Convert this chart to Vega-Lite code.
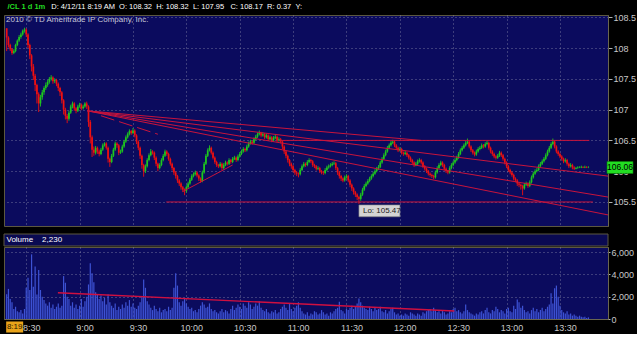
{
"$schema": "https://vega.github.io/schema/vega-lite/v6.json",
"background": "#000000",
"padding": {"left": 3, "top": 3, "right": 0, "bottom": 0},
"title": {"text": "/CL 1 d 1m", "subtitle": "\u200b\u00a0\u00a0\u00a0\u00a0\u00a0\u00a0\u00a0\u00a0\u00a0\u00a0\u00a0\u00a0\u00a0\u00a0\u00a0\u00a0\u00a0\u00a0\u00a0\u00a0\u00a0D: 4/12/11 8:19 AM\u00a0\u00a0O: 108.32\u00a0\u00a0H: 108.32\u00a0\u00a0L: 107.95\u00a0\u00a0\u00a0C: 108.17\u00a0\u00a0R: 0.37\u00a0\u00a0Y:", "anchor": "start", "dx": 4, "fontSize": 7.5, "fontWeight": "bold", "color": "#22dd22", "font": "Liberation Sans", "subtitleFont": "Liberation Sans", "subtitleFontSize": 7.5, "subtitleColor": "#ffffff", "subtitlePadding": -7.5, "offset": 2},
"datasets": {
"bars": [
{"t":499,"o":108.32,"h":108.32,"l":107.95,"c":108.17,"v":2230},
{"t":500,"o":108.17,"h":108.19,"l":108.01,"c":108.05,"v":2700},
{"t":501,"o":108.05,"h":108.07,"l":107.95,"c":107.98,"v":1800},
{"t":502,"o":107.98,"h":108.00,"l":107.89,"c":107.92,"v":1500},
{"t":503,"o":107.92,"h":107.98,"l":107.90,"c":107.95,"v":900},
{"t":504,"o":107.95,"h":108.07,"l":107.93,"c":108.05,"v":1100},
{"t":505,"o":108.05,"h":108.14,"l":108.03,"c":108.12,"v":700},
{"t":506,"o":108.12,"h":108.21,"l":108.10,"c":108.18,"v":600},
{"t":507,"o":108.18,"h":108.25,"l":108.15,"c":108.22,"v":800},
{"t":508,"o":108.22,"h":108.30,"l":108.20,"c":108.28,"v":500},
{"t":509,"o":108.28,"h":108.33,"l":108.25,"c":108.30,"v":900},
{"t":510,"o":108.30,"h":108.32,"l":108.18,"c":108.22,"v":2800},
{"t":511,"o":108.22,"h":108.24,"l":108.00,"c":108.05,"v":3700},
{"t":512,"o":108.05,"h":108.07,"l":107.82,"c":107.88,"v":2600},
{"t":513,"o":107.88,"h":107.90,"l":107.62,"c":107.70,"v":5800},
{"t":514,"o":107.70,"h":107.74,"l":107.48,"c":107.55,"v":2900},
{"t":515,"o":107.55,"h":107.58,"l":107.30,"c":107.40,"v":4700},
{"t":516,"o":107.40,"h":107.42,"l":107.10,"c":107.25,"v":2200},
{"t":517,"o":107.25,"h":107.28,"l":106.96,"c":107.10,"v":4400},
{"t":518,"o":107.10,"h":107.24,"l":107.05,"c":107.20,"v":2600},
{"t":519,"o":107.20,"h":107.32,"l":107.16,"c":107.28,"v":2000},
{"t":520,"o":107.28,"h":107.38,"l":107.24,"c":107.35,"v":1700},
{"t":521,"o":107.35,"h":107.44,"l":107.32,"c":107.40,"v":1400},
{"t":522,"o":107.40,"h":107.48,"l":107.37,"c":107.45,"v":1200},
{"t":523,"o":107.45,"h":107.53,"l":107.42,"c":107.50,"v":1500},
{"t":524,"o":107.50,"h":107.56,"l":107.47,"c":107.52,"v":1000},
{"t":525,"o":107.52,"h":107.54,"l":107.42,"c":107.46,"v":1300},
{"t":526,"o":107.46,"h":107.51,"l":107.43,"c":107.48,"v":900},
{"t":527,"o":107.48,"h":107.50,"l":107.38,"c":107.42,"v":1100},
{"t":528,"o":107.42,"h":107.44,"l":107.30,"c":107.35,"v":1400},
{"t":529,"o":107.35,"h":107.37,"l":107.22,"c":107.28,"v":1000},
{"t":530,"o":107.28,"h":107.30,"l":107.10,"c":107.15,"v":1200},
{"t":531,"o":107.15,"h":107.17,"l":106.92,"c":107.00,"v":3850},
{"t":532,"o":107.00,"h":107.03,"l":106.84,"c":106.90,"v":3250},
{"t":533,"o":106.90,"h":106.93,"l":106.78,"c":106.85,"v":2000},
{"t":534,"o":106.85,"h":106.98,"l":106.82,"c":106.95,"v":1800},
{"t":535,"o":106.95,"h":107.08,"l":106.93,"c":107.05,"v":1200},
{"t":536,"o":107.05,"h":107.13,"l":107.02,"c":107.10,"v":1500},
{"t":537,"o":107.10,"h":107.12,"l":106.98,"c":107.02,"v":1000},
{"t":538,"o":107.02,"h":107.04,"l":106.94,"c":106.98,"v":1300},
{"t":539,"o":106.98,"h":107.08,"l":106.96,"c":107.05,"v":900},
{"t":540,"o":107.05,"h":107.11,"l":107.03,"c":107.08,"v":1200},
{"t":541,"o":107.08,"h":107.10,"l":106.99,"c":107.02,"v":1800},
{"t":542,"o":107.02,"h":107.08,"l":107.00,"c":107.05,"v":1100},
{"t":543,"o":107.05,"h":107.12,"l":107.03,"c":107.10,"v":1600},
{"t":544,"o":107.10,"h":107.13,"l":107.01,"c":107.05,"v":2000},
{"t":545,"o":107.05,"h":107.07,"l":106.72,"c":106.80,"v":3100},
{"t":546,"o":106.80,"h":106.83,"l":106.45,"c":106.55,"v":5000},
{"t":547,"o":106.55,"h":106.58,"l":106.23,"c":106.35,"v":4100},
{"t":548,"o":106.35,"h":106.40,"l":106.25,"c":106.30,"v":3300},
{"t":549,"o":106.30,"h":106.41,"l":106.27,"c":106.38,"v":2400},
{"t":550,"o":106.38,"h":106.40,"l":106.28,"c":106.32,"v":2200},
{"t":551,"o":106.32,"h":106.35,"l":106.24,"c":106.28,"v":1800},
{"t":552,"o":106.28,"h":106.38,"l":106.26,"c":106.35,"v":2100},
{"t":553,"o":106.35,"h":106.45,"l":106.33,"c":106.42,"v":1600},
{"t":554,"o":106.42,"h":106.47,"l":106.40,"c":106.45,"v":1900},
{"t":555,"o":106.45,"h":106.47,"l":106.35,"c":106.38,"v":1300},
{"t":556,"o":106.38,"h":106.40,"l":106.14,"c":106.20,"v":2200},
{"t":557,"o":106.20,"h":106.22,"l":106.07,"c":106.15,"v":1500},
{"t":558,"o":106.15,"h":106.28,"l":106.13,"c":106.25,"v":1200},
{"t":559,"o":106.25,"h":106.38,"l":106.23,"c":106.35,"v":1000},
{"t":560,"o":106.35,"h":106.48,"l":106.33,"c":106.45,"v":1400},
{"t":561,"o":106.45,"h":106.47,"l":106.38,"c":106.42,"v":800},
{"t":562,"o":106.42,"h":106.44,"l":106.26,"c":106.30,"v":1100},
{"t":563,"o":106.30,"h":106.35,"l":106.28,"c":106.32,"v":900},
{"t":564,"o":106.32,"h":106.43,"l":106.30,"c":106.40,"v":1300},
{"t":565,"o":106.40,"h":106.51,"l":106.38,"c":106.48,"v":1000},
{"t":566,"o":106.48,"h":106.58,"l":106.46,"c":106.55,"v":1500},
{"t":567,"o":106.55,"h":106.63,"l":106.53,"c":106.60,"v":1200},
{"t":568,"o":106.60,"h":106.68,"l":106.58,"c":106.65,"v":1700},
{"t":569,"o":106.65,"h":106.67,"l":106.59,"c":106.62,"v":1100},
{"t":570,"o":106.62,"h":106.70,"l":106.60,"c":106.66,"v":1400},
{"t":571,"o":106.66,"h":106.68,"l":106.55,"c":106.58,"v":1000},
{"t":572,"o":106.58,"h":106.60,"l":106.44,"c":106.48,"v":900},
{"t":573,"o":106.48,"h":106.50,"l":106.34,"c":106.38,"v":1200},
{"t":574,"o":106.38,"h":106.40,"l":106.20,"c":106.25,"v":1500},
{"t":575,"o":106.25,"h":106.27,"l":106.04,"c":106.10,"v":2000},
{"t":576,"o":106.10,"h":106.12,"l":105.91,"c":106.00,"v":3550},
{"t":577,"o":106.00,"h":106.11,"l":105.97,"c":106.08,"v":2800},
{"t":578,"o":106.08,"h":106.21,"l":106.06,"c":106.18,"v":1600},
{"t":579,"o":106.18,"h":106.29,"l":106.16,"c":106.26,"v":1300},
{"t":580,"o":106.26,"h":106.36,"l":106.24,"c":106.32,"v":1000},
{"t":581,"o":106.32,"h":106.34,"l":106.27,"c":106.30,"v":800},
{"t":582,"o":106.30,"h":106.32,"l":106.18,"c":106.22,"v":1200},
{"t":583,"o":106.22,"h":106.24,"l":106.08,"c":106.12,"v":900},
{"t":584,"o":106.12,"h":106.14,"l":106.00,"c":106.05,"v":700},
{"t":585,"o":106.05,"h":106.13,"l":106.03,"c":106.10,"v":1000},
{"t":586,"o":106.10,"h":106.21,"l":106.08,"c":106.18,"v":600},
{"t":587,"o":106.18,"h":106.28,"l":106.16,"c":106.25,"v":800},
{"t":588,"o":106.25,"h":106.35,"l":106.23,"c":106.32,"v":900},
{"t":589,"o":106.32,"h":106.34,"l":106.25,"c":106.28,"v":700},
{"t":590,"o":106.28,"h":106.30,"l":106.17,"c":106.20,"v":1100},
{"t":591,"o":106.20,"h":106.22,"l":106.09,"c":106.12,"v":800},
{"t":592,"o":106.12,"h":106.14,"l":106.01,"c":106.05,"v":1000},
{"t":593,"o":106.05,"h":106.07,"l":105.94,"c":105.98,"v":2800},
{"t":594,"o":105.98,"h":106.00,"l":105.88,"c":105.92,"v":4100},
{"t":595,"o":105.92,"h":105.94,"l":105.81,"c":105.85,"v":3000},
{"t":596,"o":105.85,"h":105.87,"l":105.76,"c":105.80,"v":1500},
{"t":597,"o":105.80,"h":105.82,"l":105.70,"c":105.74,"v":1200},
{"t":598,"o":105.74,"h":105.76,"l":105.66,"c":105.70,"v":1600},
{"t":599,"o":105.70,"h":105.72,"l":105.61,"c":105.68,"v":1800},
{"t":600,"o":105.68,"h":105.77,"l":105.65,"c":105.74,"v":1400},
{"t":601,"o":105.74,"h":105.83,"l":105.72,"c":105.80,"v":1100},
{"t":602,"o":105.80,"h":105.89,"l":105.78,"c":105.86,"v":900},
{"t":603,"o":105.86,"h":105.95,"l":105.84,"c":105.92,"v":1000},
{"t":604,"o":105.92,"h":105.98,"l":105.90,"c":105.95,"v":700},
{"t":605,"o":105.95,"h":106.01,"l":105.93,"c":105.98,"v":800},
{"t":606,"o":105.98,"h":106.00,"l":105.90,"c":105.93,"v":600},
{"t":607,"o":105.93,"h":105.95,"l":105.84,"c":105.88,"v":900},
{"t":608,"o":105.88,"h":105.90,"l":105.81,"c":105.84,"v":1200},
{"t":609,"o":105.84,"h":106.01,"l":105.82,"c":105.98,"v":1500},
{"t":610,"o":105.98,"h":106.15,"l":105.96,"c":106.12,"v":1300},
{"t":611,"o":106.12,"h":106.28,"l":106.10,"c":106.25,"v":1000},
{"t":612,"o":106.25,"h":106.37,"l":106.23,"c":106.34,"v":1100},
{"t":613,"o":106.34,"h":106.42,"l":106.32,"c":106.38,"v":1400},
{"t":614,"o":106.38,"h":106.40,"l":106.27,"c":106.30,"v":900},
{"t":615,"o":106.30,"h":106.32,"l":106.19,"c":106.22,"v":700},
{"t":616,"o":106.22,"h":106.24,"l":106.12,"c":106.15,"v":800},
{"t":617,"o":106.15,"h":106.17,"l":106.07,"c":106.10,"v":600},
{"t":618,"o":106.10,"h":106.12,"l":106.05,"c":106.08,"v":500},
{"t":619,"o":106.08,"h":106.15,"l":106.06,"c":106.12,"v":700},
{"t":620,"o":106.12,"h":106.14,"l":106.02,"c":106.05,"v":900},
{"t":621,"o":106.05,"h":106.13,"l":106.03,"c":106.10,"v":600},
{"t":622,"o":106.10,"h":106.17,"l":106.08,"c":106.14,"v":800},
{"t":623,"o":106.14,"h":106.16,"l":106.09,"c":106.12,"v":700},
{"t":624,"o":106.12,"h":106.21,"l":106.10,"c":106.18,"v":500},
{"t":625,"o":106.18,"h":106.20,"l":106.12,"c":106.15,"v":900},
{"t":626,"o":106.15,"h":106.23,"l":106.13,"c":106.20,"v":1200},
{"t":627,"o":106.20,"h":106.25,"l":106.18,"c":106.22,"v":800},
{"t":628,"o":106.22,"h":106.24,"l":106.15,"c":106.18,"v":1000},
{"t":629,"o":106.18,"h":106.27,"l":106.16,"c":106.24,"v":1300},
{"t":630,"o":106.24,"h":106.31,"l":106.22,"c":106.28,"v":1100},
{"t":631,"o":106.28,"h":106.35,"l":106.26,"c":106.32,"v":900},
{"t":632,"o":106.32,"h":106.39,"l":106.30,"c":106.36,"v":1400},
{"t":633,"o":106.36,"h":106.38,"l":106.31,"c":106.34,"v":1200},
{"t":634,"o":106.34,"h":106.43,"l":106.32,"c":106.40,"v":1000},
{"t":635,"o":106.40,"h":106.48,"l":106.38,"c":106.45,"v":1500},
{"t":636,"o":106.45,"h":106.51,"l":106.43,"c":106.48,"v":1300},
{"t":637,"o":106.48,"h":106.50,"l":106.43,"c":106.46,"v":900},
{"t":638,"o":106.46,"h":106.55,"l":106.44,"c":106.52,"v":1100},
{"t":639,"o":106.52,"h":106.59,"l":106.50,"c":106.56,"v":1400},
{"t":640,"o":106.56,"h":106.63,"l":106.54,"c":106.60,"v":1200},
{"t":641,"o":106.60,"h":106.66,"l":106.58,"c":106.62,"v":1600},
{"t":642,"o":106.62,"h":106.64,"l":106.55,"c":106.58,"v":1000},
{"t":643,"o":106.58,"h":106.63,"l":106.56,"c":106.60,"v":800},
{"t":644,"o":106.60,"h":106.62,"l":106.52,"c":106.55,"v":700},
{"t":645,"o":106.55,"h":106.61,"l":106.53,"c":106.58,"v":900},
{"t":646,"o":106.58,"h":106.60,"l":106.49,"c":106.52,"v":600},
{"t":647,"o":106.52,"h":106.58,"l":106.50,"c":106.55,"v":500},
{"t":648,"o":106.55,"h":106.57,"l":106.47,"c":106.50,"v":700},
{"t":649,"o":106.50,"h":106.57,"l":106.48,"c":106.54,"v":600},
{"t":650,"o":106.54,"h":106.59,"l":106.52,"c":106.56,"v":800},
{"t":651,"o":106.56,"h":106.58,"l":106.47,"c":106.50,"v":500},
{"t":652,"o":106.50,"h":106.55,"l":106.48,"c":106.52,"v":600},
{"t":653,"o":106.52,"h":106.54,"l":106.45,"c":106.48,"v":900},
{"t":654,"o":106.48,"h":106.50,"l":106.36,"c":106.40,"v":1100},
{"t":655,"o":106.40,"h":106.42,"l":106.28,"c":106.32,"v":1300},
{"t":656,"o":106.32,"h":106.34,"l":106.21,"c":106.25,"v":1000},
{"t":657,"o":106.25,"h":106.27,"l":106.14,"c":106.18,"v":800},
{"t":658,"o":106.18,"h":106.20,"l":106.08,"c":106.12,"v":1400},
{"t":659,"o":106.12,"h":106.14,"l":106.04,"c":106.08,"v":900},
{"t":660,"o":106.08,"h":106.10,"l":105.98,"c":106.02,"v":700},
{"t":661,"o":106.02,"h":106.04,"l":105.94,"c":105.98,"v":1000},
{"t":662,"o":105.98,"h":106.00,"l":105.92,"c":105.96,"v":1200},
{"t":663,"o":105.96,"h":105.98,"l":105.90,"c":105.95,"v":1500},
{"t":664,"o":105.95,"h":106.05,"l":105.93,"c":106.02,"v":1000},
{"t":665,"o":106.02,"h":106.11,"l":106.00,"c":106.08,"v":700},
{"t":666,"o":106.08,"h":106.15,"l":106.06,"c":106.12,"v":500},
{"t":667,"o":106.12,"h":106.14,"l":106.07,"c":106.10,"v":400},
{"t":668,"o":106.10,"h":106.18,"l":106.08,"c":106.15,"v":600},
{"t":669,"o":106.15,"h":106.21,"l":106.13,"c":106.18,"v":300},
{"t":670,"o":106.18,"h":106.20,"l":106.13,"c":106.16,"v":500},
{"t":671,"o":106.16,"h":106.18,"l":106.07,"c":106.10,"v":400},
{"t":672,"o":106.10,"h":106.12,"l":106.05,"c":106.08,"v":700},
{"t":673,"o":106.08,"h":106.10,"l":106.01,"c":106.04,"v":600},
{"t":674,"o":106.04,"h":106.08,"l":106.02,"c":106.05,"v":400},
{"t":675,"o":106.05,"h":106.07,"l":105.97,"c":106.00,"v":500},
{"t":676,"o":106.00,"h":106.02,"l":105.95,"c":105.98,"v":800},
{"t":677,"o":105.98,"h":106.00,"l":105.94,"c":105.97,"v":600},
{"t":678,"o":105.97,"h":106.05,"l":105.95,"c":106.02,"v":400},
{"t":679,"o":106.02,"h":106.09,"l":106.00,"c":106.06,"v":500},
{"t":680,"o":106.06,"h":106.11,"l":106.04,"c":106.08,"v":300},
{"t":681,"o":106.08,"h":106.13,"l":106.06,"c":106.10,"v":600},
{"t":682,"o":106.10,"h":106.15,"l":106.08,"c":106.12,"v":500},
{"t":683,"o":106.12,"h":106.16,"l":106.10,"c":106.13,"v":700},
{"t":684,"o":106.13,"h":106.15,"l":106.02,"c":106.05,"v":900},
{"t":685,"o":106.05,"h":106.07,"l":105.94,"c":105.98,"v":1000},
{"t":686,"o":105.98,"h":106.00,"l":105.88,"c":105.92,"v":1550},
{"t":687,"o":105.92,"h":105.94,"l":105.84,"c":105.88,"v":800},
{"t":688,"o":105.88,"h":105.90,"l":105.82,"c":105.85,"v":700},
{"t":689,"o":105.85,"h":105.93,"l":105.83,"c":105.90,"v":500},
{"t":690,"o":105.90,"h":105.95,"l":105.88,"c":105.92,"v":900},
{"t":691,"o":105.92,"h":105.94,"l":105.82,"c":105.85,"v":800},
{"t":692,"o":105.85,"h":105.87,"l":105.74,"c":105.78,"v":1000},
{"t":693,"o":105.78,"h":105.80,"l":105.68,"c":105.72,"v":1200},
{"t":694,"o":105.72,"h":105.74,"l":105.62,"c":105.66,"v":900},
{"t":695,"o":105.66,"h":105.68,"l":105.58,"c":105.62,"v":1100},
{"t":696,"o":105.62,"h":105.64,"l":105.53,"c":105.58,"v":1400},
{"t":697,"o":105.58,"h":105.60,"l":105.47,"c":105.55,"v":1850},
{"t":698,"o":105.55,"h":105.65,"l":105.52,"c":105.62,"v":1500},
{"t":699,"o":105.62,"h":105.73,"l":105.60,"c":105.70,"v":1200},
{"t":700,"o":105.70,"h":105.79,"l":105.68,"c":105.76,"v":1000},
{"t":701,"o":105.76,"h":105.83,"l":105.74,"c":105.80,"v":900},
{"t":702,"o":105.80,"h":105.87,"l":105.78,"c":105.84,"v":800},
{"t":703,"o":105.84,"h":105.91,"l":105.82,"c":105.88,"v":1100},
{"t":704,"o":105.88,"h":105.95,"l":105.86,"c":105.92,"v":900},
{"t":705,"o":105.92,"h":105.99,"l":105.90,"c":105.96,"v":700},
{"t":706,"o":105.96,"h":106.03,"l":105.94,"c":106.00,"v":1000},
{"t":707,"o":106.00,"h":106.07,"l":105.98,"c":106.04,"v":800},
{"t":708,"o":106.04,"h":106.10,"l":106.02,"c":106.07,"v":900},
{"t":709,"o":106.07,"h":106.17,"l":106.05,"c":106.14,"v":1100},
{"t":710,"o":106.14,"h":106.23,"l":106.12,"c":106.20,"v":700},
{"t":711,"o":106.20,"h":106.29,"l":106.18,"c":106.26,"v":600},
{"t":712,"o":106.26,"h":106.35,"l":106.24,"c":106.32,"v":800},
{"t":713,"o":106.32,"h":106.41,"l":106.30,"c":106.38,"v":500},
{"t":714,"o":106.38,"h":106.45,"l":106.36,"c":106.42,"v":700},
{"t":715,"o":106.42,"h":106.49,"l":106.40,"c":106.46,"v":900},
{"t":716,"o":106.46,"h":106.51,"l":106.44,"c":106.48,"v":1000},
{"t":717,"o":106.48,"h":106.50,"l":106.39,"c":106.42,"v":600},
{"t":718,"o":106.42,"h":106.44,"l":106.35,"c":106.38,"v":400},
{"t":719,"o":106.38,"h":106.40,"l":106.31,"c":106.34,"v":500},
{"t":720,"o":106.34,"h":106.39,"l":106.32,"c":106.36,"v":300},
{"t":721,"o":106.36,"h":106.38,"l":106.27,"c":106.30,"v":400},
{"t":722,"o":106.30,"h":106.32,"l":106.25,"c":106.28,"v":300},
{"t":723,"o":106.28,"h":106.33,"l":106.26,"c":106.30,"v":500},
{"t":724,"o":106.30,"h":106.32,"l":106.23,"c":106.26,"v":400},
{"t":725,"o":106.26,"h":106.28,"l":106.19,"c":106.22,"v":300},
{"t":726,"o":106.22,"h":106.24,"l":106.15,"c":106.18,"v":600},
{"t":727,"o":106.18,"h":106.20,"l":106.11,"c":106.14,"v":500},
{"t":728,"o":106.14,"h":106.16,"l":106.07,"c":106.10,"v":400},
{"t":729,"o":106.10,"h":106.15,"l":106.08,"c":106.12,"v":300},
{"t":730,"o":106.12,"h":106.19,"l":106.10,"c":106.16,"v":500},
{"t":731,"o":106.16,"h":106.21,"l":106.14,"c":106.18,"v":400},
{"t":732,"o":106.18,"h":106.20,"l":106.11,"c":106.14,"v":300},
{"t":733,"o":106.14,"h":106.16,"l":106.05,"c":106.08,"v":600},
{"t":734,"o":106.08,"h":106.10,"l":106.01,"c":106.04,"v":500},
{"t":735,"o":106.04,"h":106.06,"l":105.97,"c":106.00,"v":700},
{"t":736,"o":106.00,"h":106.02,"l":105.93,"c":105.96,"v":800},
{"t":737,"o":105.96,"h":105.98,"l":105.91,"c":105.94,"v":900},
{"t":738,"o":105.94,"h":105.96,"l":105.89,"c":105.92,"v":700},
{"t":739,"o":105.92,"h":105.94,"l":105.87,"c":105.90,"v":1000},
{"t":740,"o":105.90,"h":106.01,"l":105.88,"c":105.98,"v":800},
{"t":741,"o":105.98,"h":106.08,"l":105.96,"c":106.05,"v":600},
{"t":742,"o":106.05,"h":106.13,"l":106.03,"c":106.10,"v":700},
{"t":743,"o":106.10,"h":106.17,"l":106.08,"c":106.14,"v":500},
{"t":744,"o":106.14,"h":106.16,"l":106.07,"c":106.10,"v":800},
{"t":745,"o":106.10,"h":106.12,"l":106.01,"c":106.04,"v":600},
{"t":746,"o":106.04,"h":106.06,"l":105.97,"c":106.00,"v":400},
{"t":747,"o":106.00,"h":106.02,"l":105.95,"c":105.98,"v":500},
{"t":748,"o":105.98,"h":106.08,"l":105.96,"c":106.05,"v":700},
{"t":749,"o":106.05,"h":106.13,"l":106.03,"c":106.10,"v":600},
{"t":750,"o":106.10,"h":106.17,"l":106.08,"c":106.14,"v":900},
{"t":751,"o":106.14,"h":106.21,"l":106.12,"c":106.18,"v":1000},
{"t":752,"o":106.18,"h":106.25,"l":106.16,"c":106.22,"v":700},
{"t":753,"o":106.22,"h":106.31,"l":106.20,"c":106.28,"v":800},
{"t":754,"o":106.28,"h":106.37,"l":106.26,"c":106.34,"v":600},
{"t":755,"o":106.34,"h":106.41,"l":106.32,"c":106.38,"v":500},
{"t":756,"o":106.38,"h":106.45,"l":106.36,"c":106.42,"v":700},
{"t":757,"o":106.42,"h":106.49,"l":106.40,"c":106.46,"v":1300},
{"t":758,"o":106.46,"h":106.53,"l":106.44,"c":106.48,"v":800},
{"t":759,"o":106.48,"h":106.50,"l":106.37,"c":106.40,"v":600},
{"t":760,"o":106.40,"h":106.42,"l":106.31,"c":106.34,"v":500},
{"t":761,"o":106.34,"h":106.36,"l":106.27,"c":106.30,"v":400},
{"t":762,"o":106.30,"h":106.32,"l":106.24,"c":106.27,"v":300},
{"t":763,"o":106.27,"h":106.35,"l":106.25,"c":106.32,"v":500},
{"t":764,"o":106.32,"h":106.39,"l":106.30,"c":106.36,"v":400},
{"t":765,"o":106.36,"h":106.41,"l":106.34,"c":106.38,"v":600},
{"t":766,"o":106.38,"h":106.45,"l":106.36,"c":106.42,"v":700},
{"t":767,"o":106.42,"h":106.44,"l":106.37,"c":106.40,"v":500},
{"t":768,"o":106.40,"h":106.47,"l":106.38,"c":106.44,"v":800},
{"t":769,"o":106.44,"h":106.49,"l":106.42,"c":106.46,"v":1000},
{"t":770,"o":106.46,"h":106.48,"l":106.35,"c":106.38,"v":600},
{"t":771,"o":106.38,"h":106.40,"l":106.29,"c":106.32,"v":500},
{"t":772,"o":106.32,"h":106.34,"l":106.25,"c":106.28,"v":800},
{"t":773,"o":106.28,"h":106.30,"l":106.21,"c":106.24,"v":700},
{"t":774,"o":106.24,"h":106.26,"l":106.19,"c":106.22,"v":1100},
{"t":775,"o":106.22,"h":106.28,"l":106.20,"c":106.25,"v":900},
{"t":776,"o":106.25,"h":106.33,"l":106.23,"c":106.30,"v":600},
{"t":777,"o":106.30,"h":106.32,"l":106.23,"c":106.26,"v":800},
{"t":778,"o":106.26,"h":106.28,"l":106.17,"c":106.20,"v":700},
{"t":779,"o":106.20,"h":106.22,"l":106.11,"c":106.14,"v":500},
{"t":780,"o":106.14,"h":106.16,"l":106.05,"c":106.08,"v":900},
{"t":781,"o":106.08,"h":106.10,"l":105.99,"c":106.02,"v":1000},
{"t":782,"o":106.02,"h":106.04,"l":105.95,"c":105.98,"v":700},
{"t":783,"o":105.98,"h":106.00,"l":105.91,"c":105.94,"v":600},
{"t":784,"o":105.94,"h":105.96,"l":105.85,"c":105.88,"v":1200},
{"t":785,"o":105.88,"h":105.90,"l":105.82,"c":105.85,"v":900},
{"t":786,"o":105.85,"h":105.87,"l":105.76,"c":105.80,"v":1750},
{"t":787,"o":105.80,"h":105.82,"l":105.74,"c":105.78,"v":1500},
{"t":788,"o":105.78,"h":105.80,"l":105.70,"c":105.76,"v":1000},
{"t":789,"o":105.76,"h":105.78,"l":105.61,"c":105.72,"v":1200},
{"t":790,"o":105.72,"h":105.81,"l":105.70,"c":105.78,"v":800},
{"t":791,"o":105.78,"h":105.83,"l":105.76,"c":105.80,"v":600},
{"t":792,"o":105.80,"h":105.82,"l":105.73,"c":105.76,"v":700},
{"t":793,"o":105.76,"h":105.85,"l":105.74,"c":105.82,"v":500},
{"t":794,"o":105.82,"h":105.93,"l":105.80,"c":105.90,"v":800},
{"t":795,"o":105.90,"h":105.99,"l":105.88,"c":105.96,"v":1000},
{"t":796,"o":105.96,"h":106.03,"l":105.94,"c":106.00,"v":700},
{"t":797,"o":106.00,"h":106.05,"l":105.98,"c":106.02,"v":900},
{"t":798,"o":106.02,"h":106.11,"l":106.00,"c":106.08,"v":600},
{"t":799,"o":106.08,"h":106.15,"l":106.06,"c":106.12,"v":800},
{"t":800,"o":106.12,"h":106.19,"l":106.10,"c":106.16,"v":1000},
{"t":801,"o":106.16,"h":106.23,"l":106.14,"c":106.20,"v":700},
{"t":802,"o":106.20,"h":106.29,"l":106.18,"c":106.26,"v":900},
{"t":803,"o":106.26,"h":106.35,"l":106.24,"c":106.32,"v":1100},
{"t":804,"o":106.32,"h":106.41,"l":106.30,"c":106.38,"v":1300},
{"t":805,"o":106.38,"h":106.47,"l":106.36,"c":106.44,"v":2300},
{"t":806,"o":106.44,"h":106.53,"l":106.42,"c":106.48,"v":1400},
{"t":807,"o":106.48,"h":106.50,"l":106.37,"c":106.40,"v":2750},
{"t":808,"o":106.40,"h":106.42,"l":106.29,"c":106.32,"v":3000},
{"t":809,"o":106.32,"h":106.34,"l":106.25,"c":106.28,"v":2000},
{"t":810,"o":106.28,"h":106.30,"l":106.21,"c":106.24,"v":1200},
{"t":811,"o":106.24,"h":106.26,"l":106.17,"c":106.20,"v":800},
{"t":812,"o":106.20,"h":106.22,"l":106.13,"c":106.16,"v":600},
{"t":813,"o":106.16,"h":106.21,"l":106.14,"c":106.18,"v":500},
{"t":814,"o":106.18,"h":106.20,"l":106.09,"c":106.12,"v":700},
{"t":815,"o":106.12,"h":106.14,"l":106.05,"c":106.08,"v":400},
{"t":816,"o":106.08,"h":106.13,"l":106.06,"c":106.10,"v":500},
{"t":817,"o":106.10,"h":106.12,"l":106.03,"c":106.06,"v":300},
{"t":818,"o":106.06,"h":106.08,"l":106.02,"c":106.04,"v":400},
{"t":819,"o":106.04,"h":106.07,"l":106.03,"c":106.05,"v":300},
{"t":820,"o":106.05,"h":106.08,"l":106.04,"c":106.06,"v":200},
{"t":821,"o":106.06,"h":106.08,"l":106.05,"c":106.06,"v":300},
{"t":822,"o":106.06,"h":106.09,"l":106.05,"c":106.07,"v":200},
{"t":823,"o":106.07,"h":106.08,"l":106.05,"c":106.06,"v":150},
{"t":824,"o":106.06,"h":106.09,"l":106.05,"c":106.07,"v":200},
{"t":825,"o":106.07,"h":106.08,"l":106.05,"c":106.06,"v":100},
{"t":826,"o":106.06,"h":106.08,"l":106.05,"c":106.06,"v":150}
],
"trend": [
{"id":"A0","t":544.3,"p":106.98},{"id":"A0","t":731.9,"p":106.50},
{"id":"A","t":652,"p":106.50},{"id":"A","t":826.5,"p":106.50},
{"id":"B","t":544.3,"p":106.98},{"id":"B","t":837,"p":105.92},
{"id":"C","t":544.3,"p":106.98},{"id":"C","t":837,"p":105.58},
{"id":"D","t":544.3,"p":106.98},{"id":"D","t":837,"p":105.29},
{"id":"E","t":588.7,"p":105.50},{"id":"E","t":828.5,"p":105.50},
{"id":"F","t":598,"p":105.67},{"id":"F","t":626,"p":106.10}
],
"dashed": [
{"id":"G","t":552,"p":106.90},{"id":"G","t":584,"p":106.60}
],
"vtrend": [
{"t":527.8,"v":2360},{"t":750.6,"v":720}
],
"low": [{"t":697,"p":105.47,"label":"Lo: 105.47"}],
"last": [{"p":106.06,"label":"106.06"}],
"cursor": [{"t":499,"label":"8:19"}]
},
"spacing": 6,
"vconcat": [
{
"width": 604,
"height": 211,
"title": {"text": "2010 \u00a9 TD Ameritrade IP Company, Inc.", "anchor": "start", "offset": -11, "dx": 2, "fontSize": 8, "fontWeight": "normal", "color": "#c8c8d8", "font": "Liberation Sans"},
"layer": [
{"data": {"name": "bars"}, "mark": {"type": "rule", "strokeWidth": 0.9},
"encoding": {
"x": {"field": "t", "type": "quantitative", "scale": {"domain": [497.5, 837], "nice": false, "zero": false}, "axis": {"values": [510,540,570,600,630,660,690,720,750,780,810], "tickCount": 30, "labels": false, "ticks": false, "domain": false, "grid": true, "title": null}},
"y": {"field": "l", "type": "quantitative", "scale": {"domain": [105.11, 108.536], "nice": false, "zero": false}, "axis": {"orient": "right", "values": [105.5,106,106.5,107,107.5,108,108.5], "tickCount": 30, "labelExpr": "datum.value % 1 == 0 ? format(datum.value, '.0f') : format(datum.value, '.1f')", "labelOverlap": false, "grid": true, "title": null, "tickSize": 4, "labelPadding": 1}},
"y2": {"field": "h"},
"color": {"condition": {"test": "datum.c >= datum.o", "value": "#1ec81e"}, "value": "#f01010"}
}},
{"data": {"name": "bars"}, "mark": {"type": "rule", "strokeWidth": 1.7},
"encoding": {
"x": {"field": "t", "type": "quantitative"},
"y": {"field": "o", "type": "quantitative"},
"y2": {"field": "c"},
"color": {"condition": {"test": "datum.c >= datum.o", "value": "#1ec81e"}, "value": "#f01010"}
}},
{"data": {"name": "trend"}, "mark": {"type": "line", "strokeWidth": 1, "color": "#c8143c", "clip": true},
"encoding": {"x": {"field": "t", "type": "quantitative"}, "y": {"field": "p", "type": "quantitative"}, "detail": {"field": "id"}}},
{"data": {"name": "dashed"}, "mark": {"type": "line", "strokeWidth": 1, "color": "#c8143c", "strokeDash": [14, 5], "clip": true},
"encoding": {"x": {"field": "t", "type": "quantitative"}, "y": {"field": "p", "type": "quantitative"}, "detail": {"field": "id"}}},
{"data": {"name": "low"}, "mark": {"type": "point", "shape": "M-1,-0.29H1V0.29H-1Z", "size": 1681, "filled": true, "color": "#d4d4d4", "stroke": "#7a7a7a", "strokeWidth": 0.6, "opacity": 1, "xOffset": 20.5, "yOffset": 7},
"encoding": {"x": {"field": "t", "type": "quantitative"}, "y": {"field": "p", "type": "quantitative"}}},
{"data": {"name": "low"}, "mark": {"type": "text", "align": "left", "baseline": "middle", "dx": 4, "dy": 7, "fontSize": 8, "color": "#202020", "font": "Liberation Sans"},
"encoding": {"x": {"field": "t", "type": "quantitative"}, "y": {"field": "p", "type": "quantitative"}, "text": {"field": "label"}}},
{"data": {"name": "last"}, "mark": {"type": "point", "shape": "M-1,-0.46H1V0.46H-1Z", "size": 676, "filled": true, "color": "#22dd22", "stroke": "#0a7a0a", "strokeWidth": 0.6, "opacity": 1, "xOffset": 12},
"encoding": {"x": {"datum": 837, "type": "quantitative"}, "y": {"field": "p", "type": "quantitative"}}},
{"data": {"name": "last"}, "mark": {"type": "text", "align": "center", "baseline": "middle", "dx": 12, "fontSize": 8.5, "color": "#000000", "font": "Liberation Sans"},
"encoding": {"x": {"datum": 837, "type": "quantitative"}, "y": {"field": "p", "type": "quantitative"}, "text": {"field": "label"}}}
]
},
{
"spacing": -6,
"vconcat": [
{
"width": 604,
"height": 12,
"title": {"text": "Volume\u00a0\u00a0\u00a0\u00a02,230", "anchor": "start", "offset": -10, "dx": 3, "fontSize": 8, "fontWeight": "normal", "color": "#ffffff", "font": "Liberation Sans"},
"data": {"values": [{"a": 1}]},
"mark": {"type": "rect", "color": "#0a0a52", "stroke": "#5c5840", "strokeWidth": 1},
"encoding": {}
},
{
"width": 604,
"height": 72,
"layer": [
{"data": {"name": "bars"}, "mark": {"type": "rule", "strokeWidth": 1.2, "color": "#3d52d4"},
"encoding": {
"x": {"field": "t", "type": "quantitative", "scale": {"domain": [497.5, 837], "nice": false, "zero": false}, "axis": {"values": [510,540,570,600,630,660,690,720,750,780,810], "tickCount": 30, "labelExpr": "floor(datum.value/60) + ':' + (datum.value%60 < 10 ? '0' : '') + (datum.value%60)", "labelOverlap": false, "grid": true, "ticks": false, "labelOffset": 5, "labelPadding": 4, "title": null}},
"y": {"field": "v", "type": "quantitative", "scale": {"domain": [0, 6460], "nice": false}, "axis": {"orient": "right", "values": [0,2000,4000,6000], "tickCount": 30, "labelExpr": "format(datum.value, ',.0f')", "labelOverlap": false, "grid": true, "title": null, "tickSize": 2, "labelPadding": 1}},
"y2": {"datum": 0}
}},
{"data": {"name": "vtrend"}, "mark": {"type": "line", "strokeWidth": 1.4, "color": "#d01040"},
"encoding": {"x": {"field": "t", "type": "quantitative"}, "y": {"field": "v", "type": "quantitative"}}},
{"data": {"name": "cursor"}, "mark": {"type": "point", "shape": "M-1,-0.65H1V0.65H-1Z", "size": 289, "filled": true, "color": "#e8a31a", "opacity": 1, "xOffset": 8, "yOffset": 8},
"encoding": {"x": {"field": "t", "type": "quantitative"}, "y": {"datum": 0, "type": "quantitative"}}},
{"data": {"name": "cursor"}, "mark": {"type": "text", "align": "center", "baseline": "middle", "dx": 8, "dy": 8, "fontSize": 8, "color": "#2a1800", "font": "Liberation Sans"},
"encoding": {"x": {"field": "t", "type": "quantitative"}, "y": {"datum": 0, "type": "quantitative"}, "text": {"field": "label"}}}
]
}
]
}
],
"config": {
"font": "Liberation Sans",
"view": {"fill": "#0b0b5e", "stroke": "#5c5840", "strokeWidth": 1},
"axis": {"labelColor": "#c8c8c8", "labelFont": "Liberation Sans", "labelFontSize": 9, "labelOverlap": false, "gridColor": "#8a8aaa", "gridDash": [1, 3], "gridOpacity": 0.8, "domainColor": "#6a6650", "tickColor": "#b0b0b0"}
}
}
